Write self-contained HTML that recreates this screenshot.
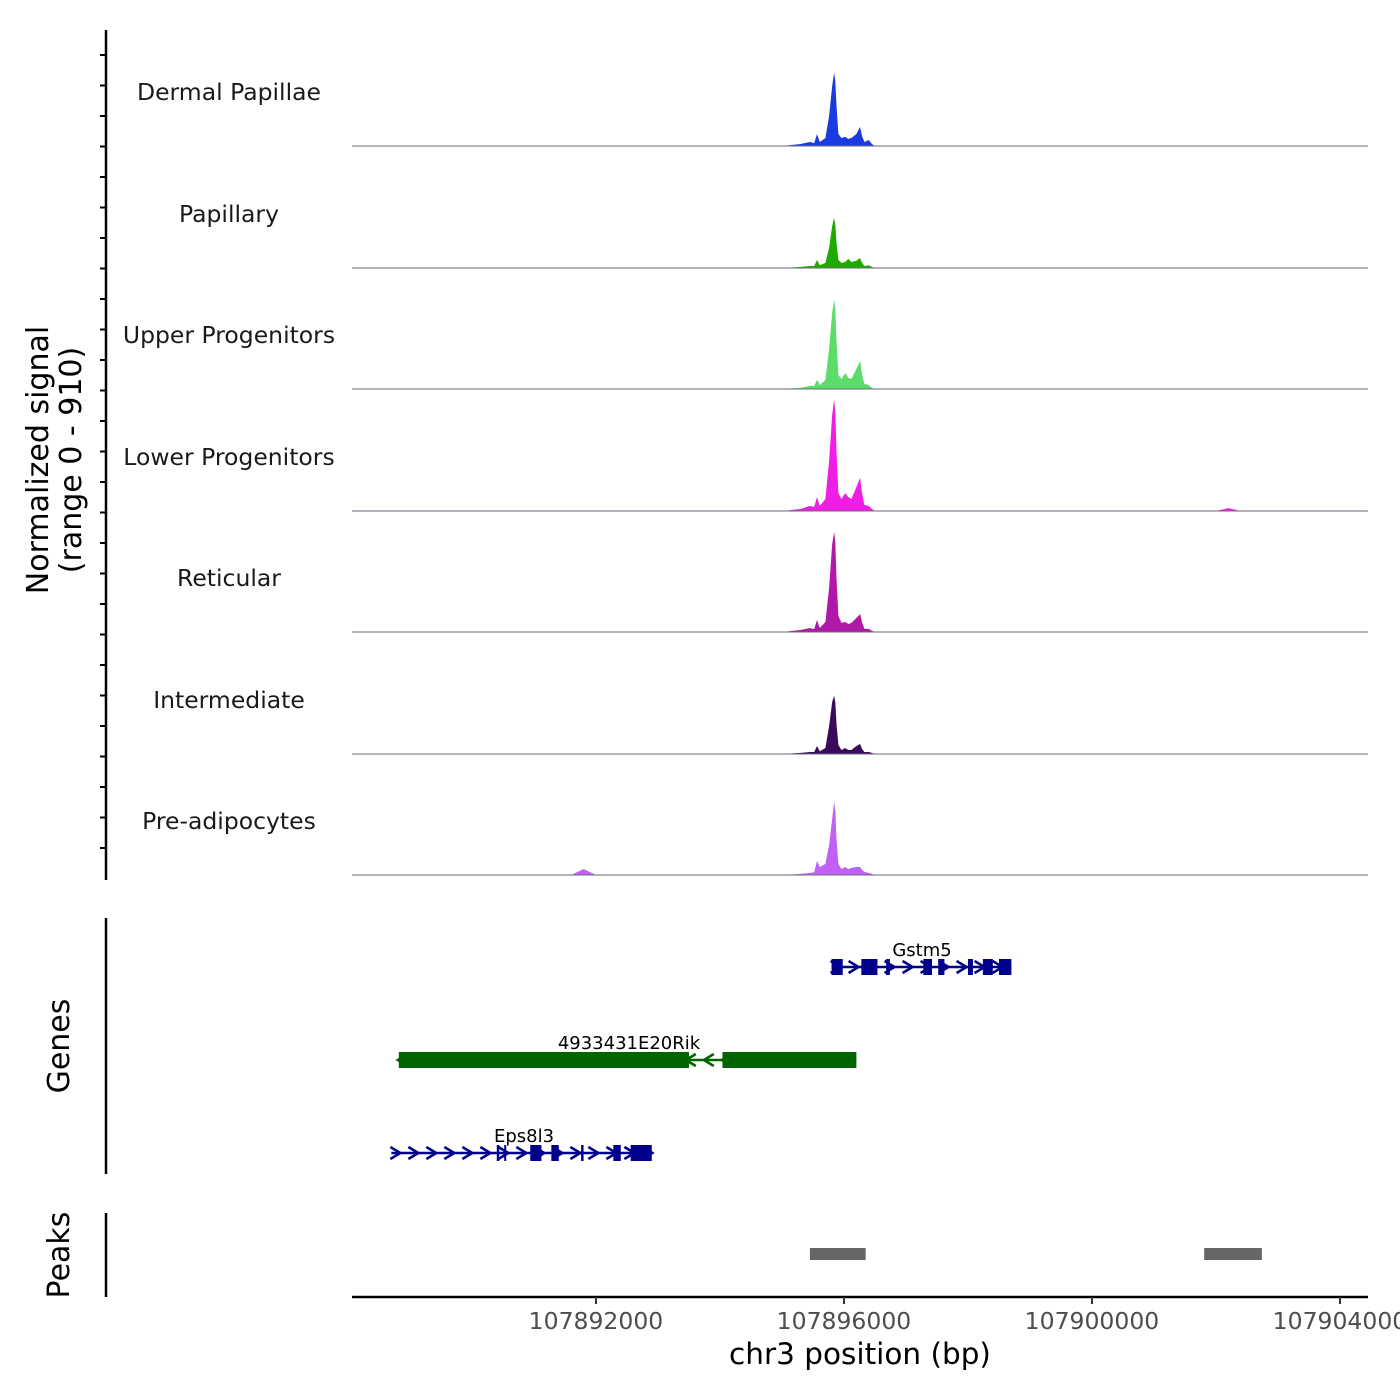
<!DOCTYPE html>
<html><head><meta charset="utf-8"><style>
html,body{margin:0;padding:0;background:#fff}
svg{display:block;font-family:"DejaVu Sans","Liberation Sans",sans-serif}
</style></head><body>
<svg id="chart" width="1400" height="1400" viewBox="0 0 1400 1400" xmlns="http://www.w3.org/2000/svg"></svg>
<script>
const trackNames = ["Dermal Papillae","Papillary","Upper Progenitors","Lower Progenitors","Reticular","Intermediate","Pre-adipocytes"];
const trackColors = ["#1a3be0","#1faa00","#5cdc68","#ee1ee4","#b018a8","#3a0a5a","#c060f4"];
const positions = [107888100,107891600,107891800,107892000,107895000,107895300,107895450,107895520,107895565,107895610,107895700,107895760,107895810,107895840,107895860,107895880,107895910,107895960,107896020,107896070,107896120,107896200,107896260,107896290,107896330,107896400,107896450,107896500,107896600,107897000,107902000,107902200,107902400,107904400];
const dermal =  [0,0,0,0,0,15,30,22,90,30,60,225,450,548,488,300,90,60,68,53,60,90,143,75,30,45,15,0,0,0,0,0,0,0];
const papillary=[0,0,0,0,0,8,15,15,60,20,38,150,315,375,330,190,60,38,45,68,45,55,75,40,15,20,8,0,0,0,0,0,0,0];
const upper =   [0,0,0,0,0,8,23,23,68,30,68,300,570,668,600,360,105,75,120,83,75,150,210,110,38,30,8,0,0,0,0,0,0,0];
const lower =   [0,0,0,0,0,15,38,30,105,38,90,375,720,833,750,450,135,90,135,105,90,180,248,135,45,38,15,0,0,0,0,22,0,0];
const reticular=[0,0,0,0,0,15,30,22,90,30,75,330,660,750,675,405,120,68,75,60,68,105,135,75,23,23,8,0,0,0,0,0,0,0];
const intermed =[0,0,0,0,0,8,15,15,60,20,45,210,390,435,390,225,68,30,45,30,30,60,75,38,15,15,8,0,0,0,0,0,0,0];
const preadipo =[0,0,45,0,0,8,15,22,105,60,83,225,420,548,480,270,83,45,60,45,53,60,60,38,23,15,8,0,0,0,0,0,0,0];
const trackValues = [dermal,papillary,upper,lower,reticular,intermed,preadipo];
const xTicks = [107892000,107896000,107900000,107904000];
const xTickLabels = ["107892000","107896000","107900000","107904000"];
const peakStarts = [107895450,107901810];
const peakEnds = [107896350,107902740];
const geneNames = ["Gstm5","4933431E20Rik","Eps8l3"];
const geneStarts = [107895800,107888820,107888700];
const geneEnds = [107898700,107896200,107892900];
const geneColors = ["#00008b","#006400","#00008b"];
const geneExons = [
 [[107895800,107895980],[107896280,107896540],[107896680,107896740],[107897280,107897420],[107897520,107897620],[107898000,107898080],[107898240,107898400],[107898500,107898700]],
 [[107888820,107893500],[107894040,107896200]],
 [[107890400,107890440],[107890520,107890540],[107890940,107891120],[107891280,107891400],[107891760,107891800],[107892280,107892400],[107892560,107892900]]
];
const geneDir = [1,-1,1];

const NS="http://www.w3.org/2000/svg", svg=document.getElementById('chart');
const X0=107888065, X1=107904452, PX0=352, PX1=1368;
const xs = v => PX0+(v-X0)*(PX1-PX0)/(X1-X0);
const YMAX=910, TH=121.5;
const baselines=[146,268,389,511,632,754,875];
function el(tag,attrs,parent){const e=document.createElementNS(NS,tag);for(const k in attrs)e.setAttribute(k,attrs[k]);(parent||svg).appendChild(e);return e;}

trackNames.forEach((n,i)=>{
  const g=el('g',{});
  
  
  const b=baselines[i], vals=trackValues[i];
  let d='M'+xs(positions[0])+','+b;
  positions.forEach((p,j)=>{d+=' L'+xs(p).toFixed(1)+','+(b-vals[j]/YMAX*TH).toFixed(1);});
  d+=' L'+xs(positions[positions.length-1])+','+b+' Z';
  const a=el('path',{d:d,fill:trackColors[i]},g);
  
  
  const l=el('line',{x1:PX0,x2:PX1,y1:b,y2:b,stroke:'#6a6a7a','stroke-width':1},g);
  
  
  const t=el('text',{x:229,y:b-46,'font-size':23.5,'text-anchor':'middle',fill:'#1a1a1a'},g);
  t.textContent=n;
  
  
});

const ax=el('g',{});


el('line',{x1:106,x2:106,y1:30,y2:880,stroke:'#000','stroke-width':2.5},ax);
for(let y=55;y<=878;y+=30.5){el('line',{x1:100,x2:106,y1:y,y2:y,stroke:'#000','stroke-width':2},ax);}
const yt=el('text',{transform:'translate(54,460) rotate(-90)','font-size':30,'text-anchor':'middle',fill:'#000'});


yt.innerHTML='<tspan x="0" dy="-6">Normalized signal</tspan><tspan x="0" dy="33">(range 0 - 910)</tspan>';

el('line',{x1:106,x2:106,y1:918,y2:1174,stroke:'#000','stroke-width':2.5});
const gt=el('text',{transform:'translate(69,1046) rotate(-90)','font-size':30,'text-anchor':'middle'});
gt.textContent='Genes';


const geneY=[967,1060,1153];
geneNames.forEach((n,i)=>{
  const g=el('g',{});
  
  
  const y=geneY[i],c=geneColors[i],x1=xs(geneStarts[i]),x2=xs(geneEnds[i]);
  el('line',{x1:x1,x2:x2,y1:y,y2:y,stroke:c,'stroke-width':2.5},g);
  for(let x=x1+4;x<x2-4;x+=18){const s=geneDir[i]*5;el('path',{d:`M${x-s},${y-6} L${x+s},${y} L${x-s},${y+6}`,stroke:c,fill:'none','stroke-width':2.5},g);}
  geneExons[i].forEach(e=>{el('rect',{x:xs(e[0]),y:y-8,width:Math.max(2,xs(e[1])-xs(e[0])),height:16,fill:c},g);});
  const t=el('text',{x:(i==0?922:i==1?629:524),y:y-11,'font-size':18,'text-anchor':'middle',fill:'#000'},g);
  t.textContent=n;
});

el('line',{x1:106,x2:106,y1:1213,y2:1297,stroke:'#000','stroke-width':2.5});
const pt=el('text',{transform:'translate(69,1255) rotate(-90)','font-size':30,'text-anchor':'middle'});
pt.textContent='Peaks';


peakStarts.forEach((s,i)=>{
  const r=el('rect',{x:xs(s),y:1248,width:xs(peakEnds[i])-xs(s),height:12,fill:'#666'});
  
  
});

const xa=el('g',{});


el('line',{x1:PX0,x2:PX1,y1:1297,y2:1297,stroke:'#000','stroke-width':2.5},xa);
xTicks.forEach((v,i)=>{
  el('line',{x1:xs(v),x2:xs(v),y1:1297,y2:1304,stroke:'#333','stroke-width':2},xa);
  const t=el('text',{x:xs(v),y:1329,'font-size':23.5,'text-anchor':'middle',fill:'#4d4d4d'},xa);
  t.textContent=xTickLabels[i];
});
const xt=el('text',{x:860,y:1364,'font-size':29.5,'text-anchor':'middle',fill:'#000'});
xt.textContent='chr3 position (bp)';


</script>
</body></html>
